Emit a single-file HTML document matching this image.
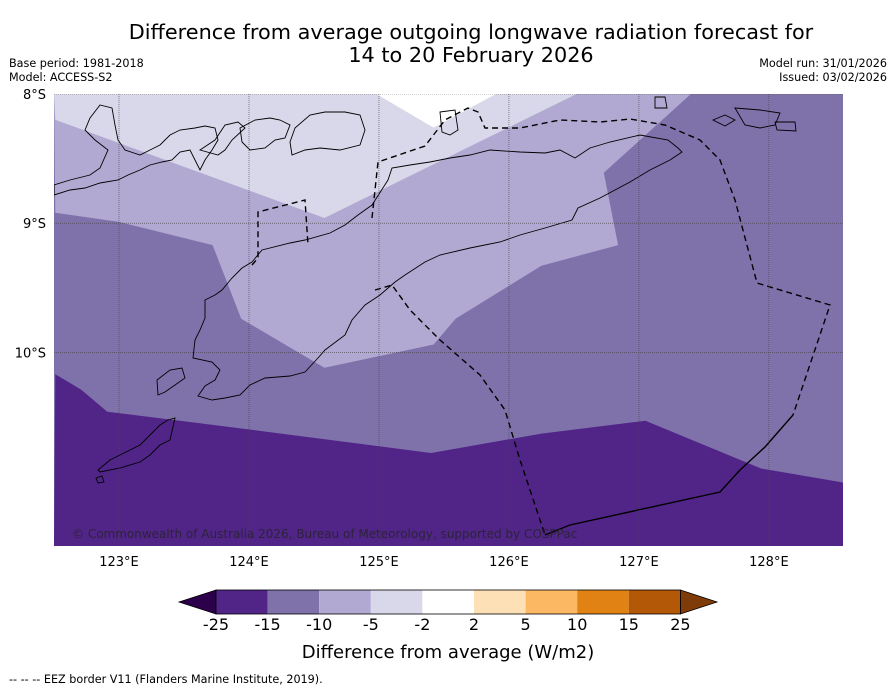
<!DOCTYPE html>
<html><head><meta charset="utf-8"><style>
body{margin:0;background:#fff;width:896px;height:690px;overflow:hidden;font-family:"Liberation Sans","DejaVu Sans",sans-serif}
svg text{font-family:"DejaVu Sans","Liberation Sans",sans-serif}
</style></head><body>
<svg id="chart" width="896" height="690" viewBox="0 0 896 690" xmlns="http://www.w3.org/2000/svg">
<text x="471" y="39" font-size="20.8" text-anchor="middle" fill="#000">Difference from average outgoing longwave radiation forecast for</text>
<text x="471" y="62" font-size="20.8" text-anchor="middle" fill="#000">14 to 20 February 2026</text>
<text x="9" y="67" font-size="11.2">Base period: 1981-2018</text>
<text x="9" y="81" font-size="11.2">Model: ACCESS-S2</text>
<text x="887" y="67" font-size="11.2" text-anchor="end">Model run: 31/01/2026</text>
<text x="887" y="81" font-size="11.2" text-anchor="end">Issued: 03/02/2026</text>
<defs><clipPath id="mapclip"><rect x="54" y="94" width="789" height="452"/></clipPath></defs>
<g id="map" clip-path="url(#mapclip)"></g>
<g id="axes"></g>
<g id="cbar"></g>
<text x="448" y="658" font-size="18" text-anchor="middle">Difference from average (W/m2)</text>
<text x="9" y="683" font-size="11.2">--  --  -- EEZ border V11 (Flanders Marine Institute, 2019).</text>
</svg>
<script>
const lonMin=122.5, lonMax=128.57, latTop=-8.0, latBot=-11.5;
const lonTicks=[123,124,125,126,127,128];
const lonTickLabels=["123°E","124°E","125°E","126°E","127°E","128°E"];
const latTicks=[-8,-9,-10];
const latTickLabels=["8°S","9°S","10°S"];
const darkLon=[122.51,122.71,122.91,124.02,125.40,126.25,127.05,127.94,128.58];
const darkLat=[-10.17,-10.29,-10.46,-10.60,-10.78,-10.63,-10.53,-10.90,-11.01];
const lightLon=[122.51,123.0,123.72,123.94,124.58,125.42,125.59,126.25,126.84,126.73,127.40];
const lightLat=[-8.92,-8.99,-9.17,-9.74,-10.12,-9.94,-9.74,-9.33,-9.17,-8.61,-8.0];
const lighterLon=[122.51,124.58,126.52];
const lighterLat=[-8.20,-8.96,-8.0];
const whiteLon=[124.98,125.42,125.90];
const whiteLat=[-8.0,-8.26,-8.0];
const cbLevels=["-25","-15","-10","-5","-2","2","5","10","15","25"];
const cbColors=["#512587","#7f72ab","#b1a9d1","#d8d8ea","#ffffff","#fee0b6","#fdb863","#e08214","#b35806"];
const X0=54,X1=843,Y0=94,Y1=546;
function xs(lon){return X0+(lon-lonMin)/(lonMax-lonMin)*(X1-X0);}
function ys(lat){return Y0+(latTop-lat)/(latTop-latBot)*(Y1-Y0);}
const NS="http://www.w3.org/2000/svg";
const map=document.getElementById('map'),axes=document.getElementById('axes'),cb=document.getElementById('cbar');
function mk(tag,attrs,parent){const e=document.createElementNS(NS,tag);for(const k in attrs)e.setAttribute(k,attrs[k]);parent.appendChild(e);return e;}
function pts(lons,lats){return lons.map((l,i)=>xs(l).toFixed(1)+','+ys(lats[i]).toFixed(1));}
let e=mk('rect',{x:X0,y:Y0,width:X1-X0,height:Y1-Y0,fill:'#7f72ab'},map);


e=mk('polygon',{points:pts(darkLon,darkLat).concat([X1+','+Y1,X0+','+Y1]).join(' '),fill:'#512587'},map);


e=mk('polygon',{points:[X0+','+Y0].concat(pts(lightLon,lightLat)).join(' '),fill:'#b1a9d1'},map);


e=mk('polygon',{points:[X0+','+Y0].concat(pts(lighterLon,lighterLat)).join(' '),fill:'#d8d8ea'},map);


e=mk('polygon',{points:pts(whiteLon,whiteLat).join(' '),fill:'#ffffff'},map);


const coasts=[
"M252,262 L262,250 L290,243 L305,240 L330,233 L345,225 L358,215 L372,205 L388,180 L392,168 L410,165 L430,162 L450,158 L470,155 L490,150 L520,152 L545,153 L560,150 L575,158 L590,148 L610,142 L640,135 L668,140 L678,148 L682,152 L670,160 L650,170 L630,182 L600,198 L578,208 L572,220 L545,228 L520,235 L500,242 L470,248 L440,255 L425,262 L405,275 L395,282 L380,295 L365,305 L352,320 L345,335 L325,350 L318,358 L305,372 L290,376 L265,378 L250,385 L240,395 L225,398 L212,400 L198,396 L205,386 L215,380 L220,370 L212,362 L193,358 L195,340 L200,330 L205,318 L205,300 L215,295 L222,290 L232,278 L242,268 Z",
"M54,185 L70,180 L90,175 L100,168 L108,150 L95,140 L85,130 L90,118 L100,105 L112,108 L115,125 L118,140 L125,150 L140,155 L150,150 L160,145 L170,135 L180,130 L195,128 L205,126 L215,128 L218,140 L212,150 L205,160 L200,170 L195,160 L190,150 L180,152 L172,160 L162,162 L150,165 L140,170 L128,175 L118,180 L100,183 L85,188 L70,190 L54,195 Z",
"M200,150 L215,140 L225,125 L238,122 L245,128 L232,140 L225,150 L218,155 Z",
"M240,128 L255,120 L270,118 L280,120 L290,125 L285,138 L275,140 L265,148 L250,150 L242,142 Z",
"M295,128 L310,115 L325,112 L345,112 L360,115 L365,130 L360,145 L340,150 L320,148 L305,150 L292,155 L290,142 Z",
"M440,112 L455,110 L458,130 L450,135 L442,132 Z",
"M655,97 L665,97 L667,108 L655,108 Z",
"M713,120 L725,115 L735,120 L725,126 Z",
"M735,108 L760,110 L780,113 L775,125 L760,128 L745,125 Z",
"M775,122 L795,122 L796,131 L777,130 Z",
"M98,470 L110,460 L120,455 L140,445 L150,435 L160,425 L168,420 L175,418 L170,440 L160,445 L150,455 L140,462 L120,468 L100,472 Z",
"M157,380 L170,370 L182,368 L185,378 L175,385 L165,392 L158,395 Z",
"M96,478 L102,476 L104,482 L98,483 Z"];
coasts.forEach((d,i)=>{const c=mk('path',{d:d,fill:'none',stroke:'#000','stroke-width':0.9},map);

});
const eezDashed=["M252,265 L258,258 L258,212 L305,200 L308,245","M372,218 L378,162 L425,146 L445,120 L468,108 L478,112 L485,128 L520,128 L560,120 L600,122 L630,119 L665,125 L700,140 L720,160 L735,200 L757,283 L830,305 L793,415","M375,290 L392,285 L410,310 L440,340 L480,375 L505,410 L520,460 L545,535"];
eezDashed.forEach(d=>{const c=mk('path',{d:d,fill:'none',stroke:'#000','stroke-width':1.4,'stroke-dasharray':'6,4'},map);

});
e=mk('path',{d:"M793,415 L765,447 L740,470 L720,492 L570,525 L545,535",fill:'none',stroke:'#000','stroke-width':1.4},map);


lonTicks.forEach((l,i)=>{const g=mk('line',{x1:xs(l),x2:xs(l),y1:Y0,y2:Y1,stroke:'#444','stroke-width':0.6,'stroke-dasharray':'1,1'},map);


const t=mk('text',{x:xs(l),y:566,'font-size':13,'text-anchor':'middle'},axes);t.textContent=lonTickLabels[i];

});
latTicks.forEach((l,i)=>{const g=mk('line',{x1:X0,x2:X1,y1:ys(l),y2:ys(l),stroke:'#444','stroke-width':0.6,'stroke-dasharray':'1,1'},map);


const t=mk('text',{x:46,y:ys(l)+5,'font-size':13,'text-anchor':'end'},axes);t.textContent=latTickLabels[i];

});
e=mk('text',{x:72,y:538,'font-size':12,fill:'#222','fill-opacity':0.75},map);
e.textContent="© Commonwealth of Australia 2026, Bureau of Meteorology, supported by COSPPac";


const cbX0=216,cbW=51.6,cbY=590,cbH=24;
e=mk('polygon',{points:`179,602 ${cbX0},${cbY} ${cbX0},${cbY+cbH}`,fill:'#2d004b',stroke:'#000','stroke-width':0.8},cb);


cbColors.forEach((c,i)=>{const r=mk('rect',{x:cbX0+i*cbW,y:cbY,width:cbW,height:cbH,fill:c},cb);

});
const cbEnd=cbX0+cbColors.length*cbW;
e=mk('polygon',{points:`${cbEnd},${cbY} 717,602 ${cbEnd},${cbY+cbH}`,fill:'#7f3b08',stroke:'#000','stroke-width':0.8},cb);


e=mk('rect',{x:cbX0,y:cbY,width:cbEnd-cbX0,height:cbH,fill:'none',stroke:'#000','stroke-width':0.8},cb);


cbLevels.forEach((s,i)=>{const t=mk('text',{x:cbX0+i*cbW,y:630,'font-size':16,'text-anchor':'middle'},cb);t.textContent=s;

});
</script>
</body></html>
